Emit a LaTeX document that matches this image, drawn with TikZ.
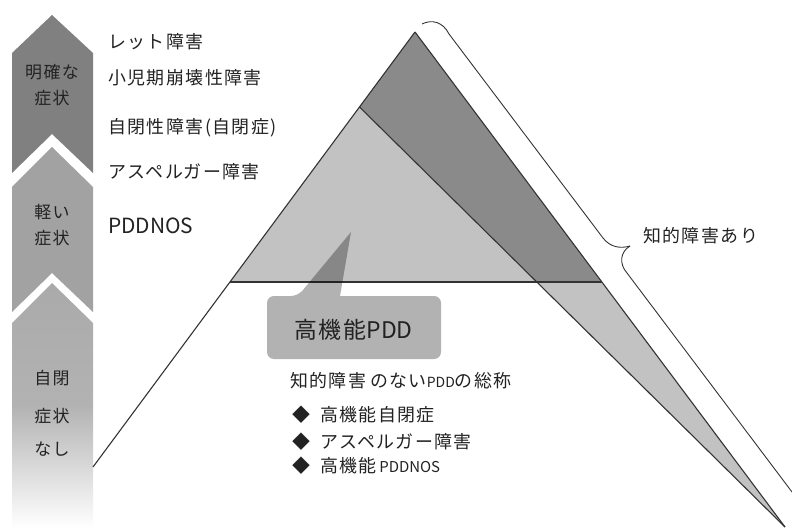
\documentclass[tikz,border=0pt]{standalone}
\usepackage{fontspec}
\newfontfamily\jp[LetterSpace=8]{Noto Sans CJK JP}
\newfontfamily\jpl{Noto Sans CJK JP}
\definecolor{darkband}{HTML}{8A8A8A}
\definecolor{lightband}{HTML}{C2C2C2}
\definecolor{arrowone}{HTML}{808080}
\definecolor{arrowtwo}{HTML}{A2A2A2}
\definecolor{arrowthree}{HTML}{AAAAAA}
\definecolor{ink}{HTML}{222222}
\definecolor{edge}{HTML}{333333}
\begin{document}
\begin{tikzpicture}[x=1bp,y=-1bp,
  lbl/.style={font=\jp\fontsize{18}{20}\selectfont, text=ink, inner sep=0pt, anchor=west},
  arrowtxt/.style={font=\jp\fontsize{17}{18}\selectfont, text=ink, inner sep=0pt},
  edgeline/.style={draw=edge, line width=1.1pt, line join=round},
  callout/.style={fill=black, fill opacity=0.3}]
\useasboundingbox (0,0) rectangle (792,528);

% left arrow column
\fill[arrowone] (12,53) -- (52,15) -- (93,53) -- (93,173) -- (52,134) -- (12,173) -- cycle;
\fill[arrowtwo] (12,187) -- (52,147) -- (93,187) -- (93,312) -- (52,273) -- (12,312) -- cycle;
\shade[top color=arrowthree, bottom color=white, middle color=arrowthree!90] (12,323) -- (52,283) -- (93,323) -- (93,528) -- (12,528) -- cycle;

\node[arrowtxt] (a1) at (52,72) {明確な};
\node[arrowtxt] (a2) at (52,98) {症状};
\node[arrowtxt] (b1) at (52,212) {軽い};
\node[arrowtxt] (b2) at (52,238) {症状};
\node[arrowtxt] (c1) at (52,378) {自閉};
\node[arrowtxt] (c2) at (52,416) {症状};
\node[arrowtxt] (c3) at (52,449) {なし};

% triangle
\coordinate (A) at (415,32);
\coordinate (B) at (359.5,107);
\coordinate (L) at (230,282);
\coordinate (M) at (536.8,282);
\coordinate (R) at (601.9,282);
\coordinate (T) at (785,527);
\coordinate (E) at (93,467);

\fill[darkband] (A) -- (B) -- (M) -- (R) -- cycle;
\fill[lightband] (B) -- (L) -- (M) -- cycle;
\fill[lightband] (M) -- (R) -- (T) -- cycle;
\draw[edgeline] (A) -- (E);
\draw[edgeline] (A) -- (T);
\draw[edgeline] (B) -- (T);
\draw[edgeline] (L) -- (R);

% brace
\coordinate (BrTop) at (422,24);
\coordinate (BrTip) at (630,246);
\coordinate (BrEnd) at (792,492);
\draw[edgeline, line width=0.9pt] (BrTop) .. controls (432,19) and (443,22) .. (449,34)
  -- (603,238) .. controls (610,247) and (620,249) .. (BrTip);
\draw[edgeline, line width=0.9pt] (BrTip) .. controls (620,252) and (619,264) .. (627,273) -- (BrEnd);
\node[lbl] (iq) at (643,236) {知的障害あり};

% list on left
\node[lbl] (l1) at (108,42) {レット障害};
\node[lbl] (l2) at (108,78) {小児期崩壊性障害};
\node[lbl] (l3) at (108,128) {自閉性障害(自閉症)};
\node[lbl] (l4) at (108,172) {アスペルガー障害};
\node[lbl, font=\jpl\fontsize{21}{22}\selectfont] (l5) at (108,226) {PDDNOS};

% callout
\fill[callout] (267,330) [rounded corners=7] -- (267,296) -- (298,296) [sharp corners] -- (351,232) -- (340,296) [rounded corners=7] -- (441,296) -- (441,359) -- (267,359) -- cycle;
\node[lbl, font=\jp\fontsize{23}{26}\selectfont] (hf) at (294,330) {高機能{\jpl PDD}};

% description
\node[lbl] (d0) at (290,381) {知的障害\hspace{4bp}のない{\jpl\fontsize{14}{16}\selectfont PDD}の総称};
\node[lbl] (d1) at (292,415) {◆\hspace{10bp}高機能自閉症};
\node[lbl] (d2) at (292,442) {◆\hspace{10bp}アスペルガー障害};
\node[lbl] (d3) at (292,466) {◆\hspace{10bp}高機能{\jpl\fontsize{15}{16}\selectfont\,PDDNOS}};
\end{tikzpicture}
\end{document}
